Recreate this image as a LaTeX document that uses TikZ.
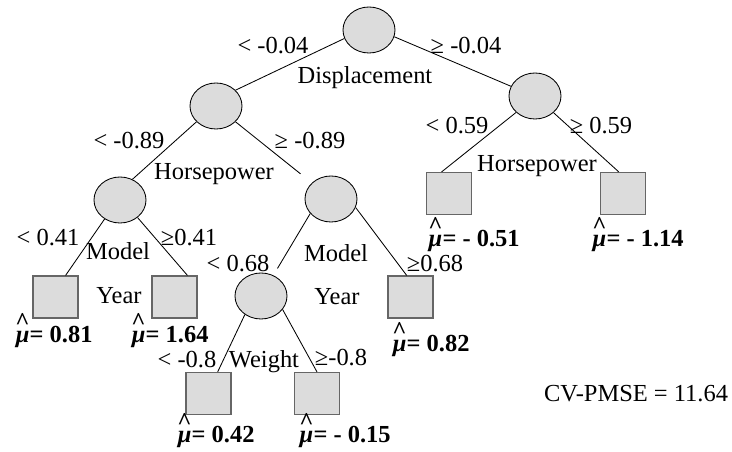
\documentclass[tikz,border=0pt]{standalone}
\usepackage{amsmath}
\usepackage{fontspec}
\setmainfont{Liberation Serif}
\usetikzlibrary{shapes.geometric}

\newcommand{\muhat}{\ensuremath{\overset{\raisebox{-0.8ex}{\bfseries\^{}}}{\text{\bfseries\itshape μ}}}}

\begin{document}
\begin{tikzpicture}[
    x=0.025cm, y=-0.025cm,
    every node/.style={font=\fontsize{17.4}{20}\selectfont},
    splitnode/.style={ellipse, draw, fill=nodegray, minimum width=1.3cm, minimum height=1.15cm, inner sep=0pt, line width=0.6pt},
    leafnode/.style={rectangle, draw=black!60, fill=nodegray, minimum width=1.125cm, minimum height=1.05cm, inner sep=0pt, line width=0.8pt},
    lbl/.style={anchor=base, inner sep=0pt},
    est/.style={anchor=base, inner sep=0pt, font=\fontsize{17.4}{20}\selectfont\bfseries},
    branch/.style={line width=0.6pt}
]

% Define colors
\definecolor{nodegray}{RGB}{220,220,220}

\useasboundingbox (0,0) rectangle (732,452);

% Split nodes
\node[splitnode] (root) at (369,30) {};
\node[splitnode] (displo) at (216,106) {};
\node[splitnode] (disphi) at (535,96) {};
\node[splitnode] (hplo) at (120,200) {};
\node[splitnode] (hphi) at (331,199) {};
\node[splitnode] (yearlo) at (261,296) {};

% Terminal nodes
\node[leafnode] (leafa) at (55.5,297) {};
\node[leafnode] (leafb) at (174.5,297) {};
\node[leafnode] (leafc) at (410.5,297) {};
\node[leafnode] (leafd) at (208.5,393.5) {};
\node[leafnode] (leafe) at (317,393.5) {};
\node[leafnode] (leaff) at (449,193.5) {};
\node[leafnode] (leafg) at (623,193.5) {};

% Branches
\draw[branch] (root.199) -- (displo.39);
\draw[branch] (root.345) -- (disphi.158);
\draw[branch] (displo.219) -- (hplo.59);
\draw[branch, shorten >=0.36cm] (displo.321) -- (hphi.140);
\draw[branch] (hplo.231) -- (leafa.65);
\draw[branch] (hplo.315) -- (leafb.59);
\draw[branch, shorten >=0.2cm] (hphi.215) -- (yearlo);
\draw[branch] (hphi.341) -- (leafc.100);
\draw[branch] (yearlo.229) -- (leafd.67);
\draw[branch] (yearlo.328) -- (leafe.north);
\draw[branch] (disphi.221) -- (leaff.109);
\draw[branch] (disphi.318) -- (leafg.101);

% Split rules
\node[lbl] (ruleA) at (273,54) {< -0.04};
\node[lbl] (ruleB) at (466,54) {≥ -0.04};
\node[lbl] (varA) at (365,84) {Displacement};
\node[lbl] (ruleC) at (129,149) {< -0.89};
\node[lbl] (ruleD) at (310,149) {≥ -0.89};
\node[lbl] (varB) at (214,180) {Horsepower};
\node[lbl] (ruleE) at (457,134) {< 0.59};
\node[lbl] (ruleF) at (601,134) {≥ 0.59};
\node[lbl] (varC) at (537,172) {Horsepower};
\node[lbl] (ruleG) at (48,246) {< 0.41};
\node[lbl] (ruleH) at (189,246) {≥0.41};
\node[lbl] (varD) at (118,260) {Model};
\node[lbl] (varDb) at (119,304) {Year};
\node[lbl] (ruleI) at (238,272) {< 0.68};
\node[lbl] (ruleJ) at (435,272) {≥0.68};
\node[lbl] (varE) at (336,262) {Model};
\node[lbl] (varEb) at (337,305) {Year};
\node[lbl] (ruleK) at (187,368) {< -0.8};
\node[lbl] (ruleL) at (341,366) {≥-0.8};
\node[lbl] (varF) at (264,368) {Weight};

% Node estimates
\node[est] (estA) at (54,343) {\muhat= 0.81};
\node[est] (estB) at (170,343) {\muhat= 1.64};
\node[est] (estC) at (431,352) {\muhat= 0.82};
\node[est] (estD) at (216,443) {\muhat= 0.42};
\node[est] (estE) at (345,443) {\muhat= - 0.15};
\node[est] (estF) at (474,247) {\muhat= - 0.51};
\node[est] (estG) at (638,247) {\muhat= - 1.14};

% Error
\node[lbl] (cvpmse) at (636,402) {CV-PMSE = 11.64};

\end{tikzpicture}
\end{document}
